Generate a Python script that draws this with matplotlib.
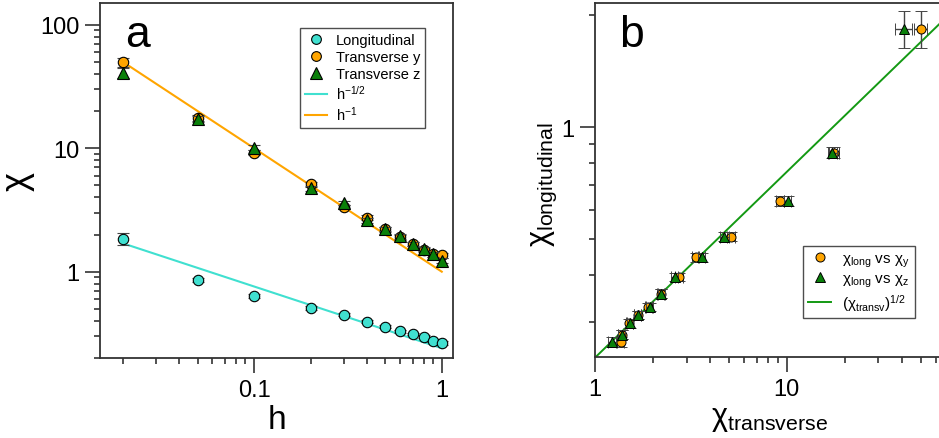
import numpy as np
import matplotlib
matplotlib.use("Agg")
import matplotlib.pyplot as plt
from matplotlib.ticker import LogLocator, NullFormatter, FixedLocator, FixedFormatter

FONT = "Liberation Sans"
plt.rcParams['font.family'] = [FONT, 'DejaVu Sans']
plt.rcParams['mathtext.fontset'] = 'custom'
plt.rcParams['mathtext.rm'] = FONT
plt.rcParams['mathtext.it'] = FONT
plt.rcParams['mathtext.bf'] = FONT
plt.rcParams['mathtext.default'] = 'regular'

# ---- data ----
h = [0.02, 0.05, 0.1, 0.2, 0.3, 0.4, 0.5, 0.6, 0.7, 0.8, 0.9, 1.0]
chi_long = [1.84, 0.855, 0.635, 0.508, 0.447, 0.395, 0.357, 0.328, 0.313, 0.297, 0.277, 0.265]
err_long = [0.21, 0.03, 0.02, 0.015, 0.012, 0.01, 0.01, 0.008, 0.008, 0.008, 0.008, 0.008]
chi_y = [49.9, 17.6, 9.2, 5.1, 3.35, 2.74, 2.2, 1.9, 1.67, 1.51, 1.38, 1.36]
err_y = [4.0, 1.0, 0.45, 0.25, 0.15, 0.12, 0.1, 0.08, 0.07, 0.06, 0.06, 0.06]
chi_z = [40.8, 17.3, 10.1, 4.72, 3.6, 2.6, 2.22, 1.93, 1.67, 1.52, 1.38, 1.23]
err_z = [4.0, 1.0, 0.45, 0.25, 0.15, 0.12, 0.1, 0.08, 0.07, 0.06, 0.06, 0.06]
amp_long = 0.24          # prefactor of h^-1/2 line
amp_trans = 1.0          # prefactor of h^-1 line
h_line = [0.02, 1.0]
chit_line = [1.0, 70.0]

C_CYAN = '#40E0D0'
C_ORANGE = '#FFA500'
C_GREEN = '#0A800A'
C_LINE_GREEN = '#139913'
C_ERR = '#444444'

fig = plt.figure(figsize=(9.39, 4.39), dpi=100)
axa = fig.add_axes([100/939, (439-359)/439, 353/939, 355/439])
axb = fig.add_axes([595/939, (439-358)/439, 349/939, 354/439])

for ax in (axa, axb):
    ax.set_xscale('log')
    ax.set_yscale('log')
    for s in ax.spines.values():
        s.set_linewidth(1.3)
        s.set_color('#333333')
    ax.tick_params(which='major', direction='out', length=11, width=1.1,
                   color='#222222', labelsize=17, pad=4, top=False, right=False)
    ax.tick_params(which='minor', direction='out', length=4.5, width=1.1,
                   color='#222222', top=False, right=False)

# ---- panel a ----
hl = np.array(h_line)
axa.plot(hl, amp_long * hl**-0.5, color=C_CYAN, lw=1.5, zorder=1)
axa.plot(hl, amp_trans * hl**-1.0, color=C_ORANGE, lw=1.5, zorder=1)
eb_kw = dict(ls='none', ecolor=C_ERR, elinewidth=1.0, capsize=4, capthick=1.0,
             markeredgecolor='black', markeredgewidth=0.8)
axa.errorbar(h, chi_long, yerr=err_long, fmt='o', color=C_CYAN, ms=7.5, zorder=3, **eb_kw)
axa.errorbar(h, chi_y, yerr=err_y, fmt='o', color=C_ORANGE, ms=7.5, zorder=3, **eb_kw)
axa.errorbar(h, chi_z, yerr=err_z, fmt='^', color=C_GREEN, ms=8.5, zorder=4, **eb_kw)

axa.set_xlim(0.0151, 1.148)
axa.set_ylim(0.2, 150)
axa.xaxis.set_major_locator(FixedLocator([0.1, 1]))
axa.xaxis.set_major_formatter(FixedFormatter(['0.1', '1']))
axa.xaxis.set_minor_locator(LogLocator(base=10, subs=np.arange(2, 10)))
axa.xaxis.set_minor_formatter(NullFormatter())
axa.yaxis.set_major_locator(FixedLocator([1, 10, 100]))
axa.yaxis.set_major_formatter(FixedFormatter(['1', '10', '100']))
axa.yaxis.set_minor_locator(LogLocator(base=10, subs=np.arange(2, 10)))
axa.yaxis.set_minor_formatter(NullFormatter())
axa.set_xlabel('h', fontsize=24, labelpad=2)
axa.set_ylabel('χ', fontsize=26)
axa.yaxis.set_label_coords(-0.185, 0.5)
axa.text(0.07, 0.97, 'a', transform=axa.transAxes, fontsize=32, va='top', ha='left')

leg_handles = [
    plt.Line2D([], [], ls='none', marker='o', color=C_CYAN, mec='black', mew=0.8, ms=7),
    plt.Line2D([], [], ls='none', marker='o', color=C_ORANGE, mec='black', mew=0.8, ms=7),
    plt.Line2D([], [], ls='none', marker='^', color=C_GREEN, mec='black', mew=0.8, ms=8),
    plt.Line2D([], [], color=C_CYAN, lw=1.5),
    plt.Line2D([], [], color=C_ORANGE, lw=1.5),
]
leg_labels = ['Longitudinal', 'Transverse y', 'Transverse z', 'h$^{-1/2}$', 'h$^{-1}$']
la = axa.legend(leg_handles, leg_labels, loc='upper right', bbox_to_anchor=(0.921, 0.930),
                fontsize=10.5, frameon=True, fancybox=False, edgecolor='#222222',
                handlelength=1.5, handletextpad=0.6, labelspacing=0.2, borderpad=0.35,
                borderaxespad=0)
la.get_frame().set_linewidth(1.0)

# ---- panel b ----
xl = np.array(chit_line)
axb.plot(xl, amp_long * np.sqrt(xl), color=C_LINE_GREEN, lw=1.4, zorder=1)
eb_kw_b = dict(ls='none', ecolor=C_ERR, elinewidth=1.0, capsize=4, capthick=1.0,
               markeredgecolor='black', markeredgewidth=0.7)
axb.errorbar(chi_y, chi_long, xerr=err_y, yerr=err_long, fmt='o', color=C_ORANGE, ms=6.5,
             zorder=3, **eb_kw_b)
axb.errorbar(chi_z, chi_long, xerr=err_z, yerr=err_long, fmt='^', color=C_GREEN, ms=6.5,
             zorder=4, **eb_kw_b)
axb.set_xlim(1.0, 66.0)
axb.set_ylim(0.241, 2.16)
axb.xaxis.set_major_locator(FixedLocator([1, 10]))
axb.xaxis.set_major_formatter(FixedFormatter(['1', '10']))
axb.xaxis.set_minor_locator(LogLocator(base=10, subs=np.arange(2, 10)))
axb.xaxis.set_minor_formatter(NullFormatter())
axb.yaxis.set_major_locator(FixedLocator([1]))
axb.yaxis.set_major_formatter(FixedFormatter(['1']))
axb.yaxis.set_minor_locator(LogLocator(base=10, subs=np.arange(2, 10)))
axb.yaxis.set_minor_formatter(NullFormatter())
axb.spines['right'].set_visible(False)
axb.set_xlabel('χ$_{transverse}$', fontsize=22, labelpad=2)
axb.set_ylabel('χ$_{longitudinal}$', fontsize=22)
axb.yaxis.set_label_coords(-0.102, 0.49)
axb.text(0.07, 0.97, 'b', transform=axb.transAxes, fontsize=32, va='top', ha='left')

hb = [
    plt.Line2D([], [], ls='none', marker='o', color=C_ORANGE, mec='black', mew=0.7, ms=6.5),
    plt.Line2D([], [], ls='none', marker='^', color=C_GREEN, mec='black', mew=0.7, ms=6.5),
    plt.Line2D([], [], color=C_LINE_GREEN, lw=1.4),
]
lb_labels = ['χ$_{long}$ vs χ$_y$', 'χ$_{long}$ vs χ$_z$', '(χ$_{transv}$)$^{1/2}$']
lb = axb.legend(hb, lb_labels, loc='upper right', bbox_to_anchor=(0.917, 0.314),
                fontsize=11, frameon=True, fancybox=False, edgecolor='#222222',
                handlelength=1.5, handletextpad=0.7, labelspacing=0.2, borderpad=0.35,
                borderaxespad=0)
lb.get_frame().set_linewidth(1.0)

fig.savefig('out.png', dpi=100)
